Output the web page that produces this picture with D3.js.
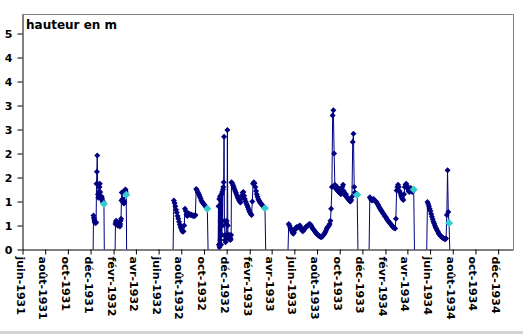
<!DOCTYPE html>
<html><head><meta charset="utf-8">
<script src="https://cdn.jsdelivr.net/npm/d3@7"></script>
<style>html,body{margin:0;padding:0;background:#fff;} svg{display:block;}</style>
</head><body>
<svg id="c" width="523" height="334"></svg>
<script>
// ---- data (hauteur en m) ----
// each run: start date, sampling step (days), values ; 0 = drop to zero at run edges
const seg1Start = "1931-12-08", seg1Step = 1;
const seg1 = [0, 0.71, 0.66, 0.62, 0.58, 0.56, 0.55, 0.55, 0.57, 1.37, 1.62, 1.96, 1.37, 1.15, 1.08, 1.12, 1.2, 1.3, 1.37, 1.2, 1.12, 1.08, 1.05, 1.1, 1.06, 1.02, 1.0, 0.98, 0.97, 0.95, 0];
const seg2Start = "1932-02-05", seg2Step = 1;
const seg2 = [0, 0.53, 0.57, 0.6, 0.58, 0.55, 0.52, 0.5, 0.5, 0.52, 0.55, 0.52, 0.5, 0.48, 0.53, 0.6, 0.64, 1.02, 1.19, 1.19, 1.05, 1.0, 0.98, 0.97, 0.96, 1.0, 1.23, 1.23, 1.25, 1.2, 1.14, 0];
const seg3Start = "1932-07-10", seg3Step = 2;
const seg3 = [0, 1.02, 0.97, 0.9, 0.83, 0.77, 0.7, 0.64, 0.58, 0.52, 0.47, 0.43, 0.39, 0.37, 0.38, 0.5, 0.85, 0.8, 0.73, 0.7, 0.72, 0.75, 0.74, 0.72, 0.73, 0.72, 0.71, 0.7, 0.71, 0.7, 0.72, 1.26, 1.24, 1.2, 1.17, 1.14, 1.1, 1.06, 1.02, 0.99, 0.97, 0.95, 0.93, 0.91, 0.89, 0.87, 0.85, 0];
const seg4aStart = "1932-11-08", seg4aStep = 1;
const seg4a = [0, 0.9, 0.1, 1.05, 0.05, 1.1, 0.2, 1.12, 0.1, 1.15, 0.3, 1.2, 0.5, 1.25, 1.3, 1.4, 2.35, 0.6, 0.3, 0.2, 0.15, 0.25, 0.55, 0.6, 0.3, 2.49, 0.5, 0.3, 0.25, 0.22, 0.28, 0.3, 0.25, 0.2, 0.22, 0.3];
const seg4bStart = "1932-12-14", seg4bStep = 2;
const seg4b = [1.4, 1.38, 1.34, 1.3, 1.26, 1.22, 1.18, 1.14, 1.1, 1.06, 1.03, 1.0, 0.98, 1.05, 1.12, 1.18, 1.2, 1.12, 1.05, 1.0, 0.96, 0.92, 0.88, 0.84, 0.8, 0.77, 0.74, 0.72, 1.0, 1.37, 1.4, 1.38, 1.3, 1.22, 1.15, 1.1, 1.05, 1.02, 0.99, 0.97, 0.95, 0.93, 0.91, 0.9, 0.88, 0.86, 0];
const seg5Start = "1933-05-15", seg5Step = 2;
const seg5 = [0, 0.53, 0.5, 0.46, 0.42, 0.39, 0.35, 0.33, 0.35, 0.4, 0.44, 0.46, 0.47, 0.46, 0.47, 0.49, 0.5, 0.46, 0.42, 0.39, 0.38, 0.4, 0.42, 0.45, 0.47, 0.48, 0.49, 0.5, 0.52, 0.53, 0.52, 0.5, 0.47, 0.44, 0.42, 0.4, 0.38, 0.36, 0.34, 0.32, 0.31, 0.29, 0.28, 0.27, 0.26, 0.26, 0.27, 0.29, 0.31, 0.33, 0.36, 0.39, 0.43, 0.46, 0.48, 0.5, 0.53, 0.6, 0.85, 1.3, 2.79, 2.9, 2.0, 1.35, 1.28, 1.25, 1.3, 1.22, 1.2, 1.25, 1.18, 1.15, 1.2, 1.3, 1.35, 1.22, 1.15, 1.12, 1.15, 1.1, 1.07, 1.05, 1.03, 1.01, 1.0, 1.03, 1.1, 2.24, 2.41, 1.3, 1.19, 1.17, 1.15, 1.14, 0];
const seg6Start = "1933-12-19", seg6Step = 2;
const seg6 = [0, 1.09, 1.06, 1.03, 1.02, 1.04, 1.05, 1.03, 1.01, 1.0, 0.99, 0.96, 0.93, 0.9, 0.87, 0.85, 0.82, 0.8, 0.77, 0.75, 0.73, 0.7, 0.68, 0.66, 0.63, 0.61, 0.59, 0.57, 0.55, 0.53, 0.51, 0.49, 0.47, 0.46, 0.45, 0.44, 0.64, 1.23, 1.3, 1.35, 1.3, 1.22, 1.17, 1.12, 1.08, 1.05, 1.03, 1.15, 1.3, 1.35, 1.37, 1.33, 1.27, 1.22, 1.2, 1.25, 1.28, 1.24, 1.2, 1.22, 1.25, 0];
const seg7Start = "1934-05-23", seg7Step = 2;
const seg7 = [0, 0.99, 0.95, 0.9, 0.85, 0.8, 0.74, 0.68, 0.63, 0.58, 0.54, 0.5, 0.46, 0.43, 0.4, 0.37, 0.34, 0.31, 0.29, 0.28, 0.26, 0.25, 0.24, 0.23, 0.22, 0.22, 0.23, 0.72, 1.65, 0.78, 0.55, 0];

// second series: last reading of each campaign
const lastDates = ["1932-01-06", "1932-03-06", "1932-10-10", "1933-03-14", "1933-11-17", "1934-04-18", "1934-07-22"];
const lastValues = [0.95, 1.14, 0.85, 0.86, 1.14, 1.25, 0.55];

// axes
const xTickDates = ["1931-06-01","1931-08-01","1931-10-01","1931-12-01","1932-02-01","1932-04-01","1932-06-01","1932-08-01","1932-10-01","1932-12-01","1933-02-01","1933-04-01","1933-06-01","1933-08-01","1933-10-01","1933-12-01","1934-02-01","1934-04-01","1934-06-01","1934-08-01","1934-10-01","1934-12-01"];
const xTickLabels = ["juin-1931","août-1931","oct-1931","déc-1931","févr-1932","avr-1932","juin-1932","août-1932","oct-1932","déc-1932","févr-1933","avr-1933","juin-1933","août-1933","oct-1933","déc-1933","févr-1934","avr-1934","juin-1934","août-1934","oct-1934","déc-1934"];
const yTicks = [0, 0.5, 1, 1.5, 2, 2.5, 3, 3.5, 4, 4.5];
const yTickLabels = ["0", "1", "1", "2", "2", "3", "3", "4", "4", "5"];
const yMax = 4.9;
const xDomain = ["1931-06-01", "1935-01-10"];
const titleText = "hauteur en m";

// ---- build ----
const parse = d3.utcParse("%Y-%m-%d");
function run(start, step, values) {
  const s = parse(start);
  return values.map((v, i) => ({ date: d3.utcDay.offset(s, i * step), v }));
}
const series = [
  run(seg1Start, seg1Step, seg1),
  run(seg2Start, seg2Step, seg2),
  run(seg3Start, seg3Step, seg3),
  run(seg4aStart, seg4aStep, seg4a).concat(run(seg4bStart, seg4bStep, seg4b)),
  run(seg5Start, seg5Step, seg5),
  run(seg6Start, seg6Step, seg6),
  run(seg7Start, seg7Step, seg7)
];
const lastPts = lastDates.map((d, i) => ({ date: parse(d), v: lastValues[i] }));

const svg = d3.select("#c");
const L = 22.5, R = 513, T = 14.3, B = 249.5;
const x = d3.scaleUtc().domain(xDomain.map(parse)).range([L, R]);
const y = d3.scaleLinear().domain([0, yMax]).range([B, T]);
const font = "'DejaVu Sans', Verdana, sans-serif";

svg.append("rect").attr("width", 523).attr("height", 334).attr("fill", "#fff");
svg.append("rect").attr("x", 0).attr("y", 331).attr("width", 523).attr("height", 3).attr("fill", "#d4d4d4");

// plot frame (top/right grey)
svg.append("path").attr("d", `M${L},14.5H${R + 0.5}V${B}`).attr("fill", "none").attr("stroke", "#808080").attr("stroke-width", 1);

// axes
const gx = svg.append("g").attr("transform", `translate(0,${B})`)
  .call(d3.axisBottom(x).tickValues(xTickDates.map(parse)).tickFormat((d, i) => xTickLabels[i]).tickSize(5).tickSizeOuter(0));
gx.select(".domain").attr("stroke", "#000");
gx.selectAll(".tick line").attr("stroke", "#000");
gx.selectAll(".tick text")
  .attr("transform", "rotate(90)")
  .attr("text-anchor", "start")
  .attr("x", 7).attr("y", 2.5).attr("dy", "0.36em")
  .attr("font-family", font).attr("font-weight", "bold").attr("font-size", 11).attr("fill", "#000");

const gy = svg.append("g").attr("transform", `translate(${L},0)`)
  .call(d3.axisLeft(y).tickValues(yTicks).tickFormat((d, i) => yTickLabels[i]).tickSize(5).tickPadding(5).tickSizeOuter(0));
gy.select(".domain").attr("stroke", "#000");
gy.selectAll(".tick line").attr("stroke", "#000");
gy.selectAll(".tick text").attr("font-family", font).attr("font-weight", "bold").attr("font-size", 11).attr("fill", "#000");

// title
svg.append("text").attr("x", 26).attr("y", 29).text(titleText)
  .attr("font-family", font).attr("font-weight", "bold").attr("font-size", 12).attr("fill", "#000");

// series lines + markers
const line = d3.line().x(d => x(d.date)).y(d => y(d.v));
const navy = "#000080";
const gS = svg.append("g");
series.forEach(s => {
  gS.append("path").attr("d", line(s)).attr("fill", "none").attr("stroke", navy).attr("stroke-width", 1);
});
const dia = r => `M0,${-r}L${r},0L0,${r}L${-r},0Z`;
gS.selectAll("path.m").data(series.flat().filter(d => d.v > 0)).join("path")
  .attr("class", "m")
  .attr("transform", d => `translate(${x(d.date)},${y(d.v)})`)
  .attr("d", dia(3)).attr("fill", navy);

svg.append("g").selectAll("path").data(lastPts).join("path")
  .attr("transform", d => `translate(${x(d.date)},${y(d.v)})`)
  .attr("d", dia(4)).attr("fill", "#33CCCC");
</script>
</body></html>
